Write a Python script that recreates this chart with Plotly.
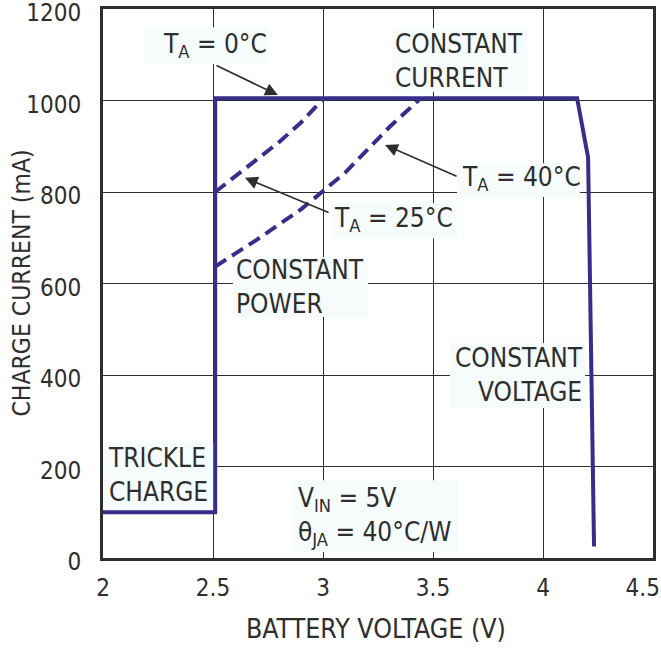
import plotly.graph_objects as go

# ---- data ----
v_solid = [2.0, 2.51, 2.51, 4.155, 4.205, 4.232]
i_solid = [100, 100, 1005, 1005, 875, 25]

v_25 = [2.51, 2.6, 2.7, 2.8, 2.9, 3.0]
i_25 = [800, 833, 870, 909, 952, 1003]

v_40 = [2.51, 2.7, 2.9, 3.1, 3.3, 3.44]
i_40 = [637, 696, 762, 842, 941, 1003]

x_ticks = [2, 2.5, 3, 3.5, 4, 4.5]
x_tick_labels = ["2", "2.5", "3", "3.5", "4", "4.5\u00a0\u00a0\u00a0"]
y_ticks = [0, 200, 400, 600, 800, 1000, 1200]
y_tick_labels = ["0", "200", "400", "600", "800", "1000", "1200"]

LINE = "#372d8a"
INK = "#2e2e2e"
FONT = "DejaVu Sans Condensed, Liberation Sans Narrow, Arial Narrow, sans-serif"
FS = 26
BOXBG = "#f6fbfc"

fig = go.Figure()
fig.add_trace(go.Scatter(x=v_solid, y=i_solid, mode="lines",
                         line=dict(color=LINE, width=4), hoverinfo="skip"))
fig.add_trace(go.Scatter(x=v_25, y=i_25, mode="lines",
                         line=dict(color=LINE, width=4, dash="13px,7px"), hoverinfo="skip"))
fig.add_trace(go.Scatter(x=v_40, y=i_40, mode="lines",
                         line=dict(color=LINE, width=4, dash="13px,7px"), hoverinfo="skip"))

# label background boxes (x0, x1, y0, y1) in data units
boxes = [
    (2.19, 2.75, 1080, 1160),
    (3.314, 3.927, 1019, 1158),
    (3.609, 4.168, 789, 863),
    (3.041, 3.609, 699, 776),
    (2.591, 3.205, 527, 658),
    (3.577, 4.191, 328, 470),
    (2.0, 2.505, 103, 252),
    (2.864, 3.614, 13, 170),
]
for x0, x1, y0, y1 in boxes:
    fig.add_shape(type="rect", xref="x", yref="y", x0=x0, x1=x1, y0=y0, y1=y1,
                  fillcolor=BOXBG, line=dict(width=0), layer="between")

def label(text, x, y, xanchor="left", align="left"):
    fig.add_annotation(x=x, y=y, xref="x", yref="y", text=text, showarrow=False,
                       xanchor=xanchor, yanchor="middle", align=align,
                       font=dict(family=FONT, size=FS, color=INK))

label("T<sub>A</sub> = 0°C", 2.265, 1120)
label("CONSTANT<br>CURRENT", 3.318, 1086)
label("T<sub>A</sub> = 40°C", 3.622, 829)
label("T<sub>A</sub> = 25°C", 3.043, 740)
label("CONSTANT<br>POWER", 2.597, 593)
label("CONSTANT<br>VOLTAGE", 4.19, 400, xanchor="right", align="right")
label("TRICKLE<br>CHARGE", 2.015, 181)
label("V<sub>IN</sub> = 5V<br>θ<sub>JA</sub> = 40°C/W", 2.876, 90)

def arrow(x, y, ax, ay):
    fig.add_annotation(x=x, y=y, ax=ax, ay=ay, xref="x", yref="y", axref="x", ayref="y",
                       text="", showarrow=True, arrowhead=2, arrowsize=1.6,
                       arrowwidth=1.6, arrowcolor=INK, standoff=0)

arrow(2.795, 1012, 2.509, 1078)
arrow(3.282, 903, 3.614, 833)
arrow(2.645, 831, 3.032, 754)

axis_common = dict(showline=True, linewidth=3, linecolor=INK, mirror=True,
                   showgrid=True, gridcolor=INK, gridwidth=1.3, zeroline=False,
                   ticks="", automargin=False, ticklabeloverflow="allow",
                   tickfont=dict(family=FONT, size=24, color=INK))

fig.update_xaxes(range=[2, 4.5], tickvals=x_ticks, ticktext=x_tick_labels,
                 ticklabelstandoff=6, **axis_common)
fig.update_yaxes(range=[0, 1200], tickvals=y_ticks, ticktext=y_tick_labels,
                 ticklabelstandoff=14, ticklabelshift=4, **axis_common)

fig.add_annotation(xref="paper", yref="paper", x=-0.149, y=0.5, text="CHARGE CURRENT (mA)",
                   textangle=-90, showarrow=False, xanchor="center", yanchor="middle",
                   font=dict(family=FONT, size=24.5, color=INK))
fig.add_annotation(xref="paper", yref="paper", x=0.497, y=-0.129, text="BATTERY VOLTAGE (V)",
                   showarrow=False, xanchor="center", yanchor="middle",
                   font=dict(family=FONT, size=26.5, color=INK))

fig.update_layout(width=661, height=648, margin=dict(l=103, r=8, t=9, b=90),
                  plot_bgcolor="white", paper_bgcolor="white", showlegend=False,
                  font=dict(family=FONT, color=INK))

# remove the default 8px page margin so the figure fills the window exactly
fig.write_html("out.html", config={"displayModeBar": False},
               post_script="document.body.style.margin='0';")
